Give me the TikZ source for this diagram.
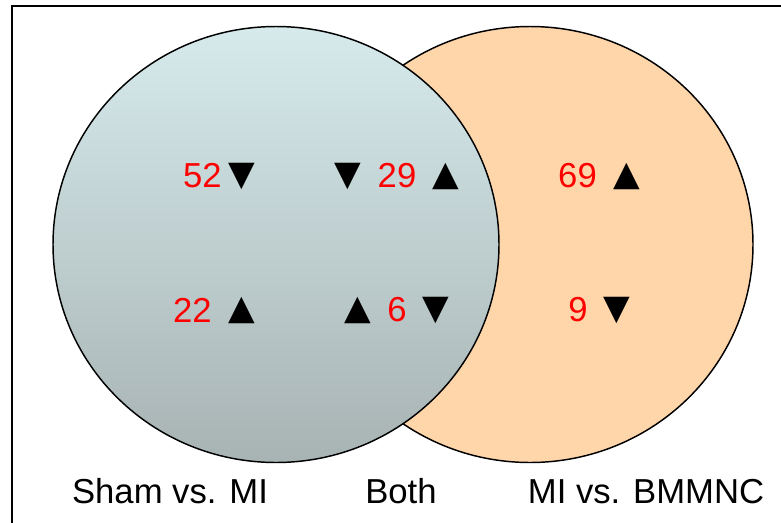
\documentclass[tikz,border=0pt]{standalone}
\usepackage{fontspec}
\setmainfont{Liberation Sans}
\newfontfamily\symfont{DejaVu Sans}
\definecolor{lefttop}{RGB}{214,234,236}
\definecolor{leftbot}{RGB}{168,179,179}
\definecolor{peach}{RGB}{255,214,170}
\begin{document}
\begin{tikzpicture}[x=0.75pt,y=-0.75pt,
  num/.style={text=red, font=\fontsize{26}{26}\selectfont, inner sep=0pt},
  tri/.style={font=\symfont\fontsize{26}{26}\selectfont, inner sep=0pt},
  lbl/.style={font=\fontsize{26}{26}\selectfont, anchor=base, inner sep=0pt},
  venn/.style={draw=black, line width=1.1pt}]
\useasboundingbox (0,0) rectangle (781,522);
\clip (0,0) rectangle (781,522);
\fill[white] (0,0) rectangle (781,522);
% frame
\draw[line width=1.6pt] (12,540) -- (12,5.7) -- (800,5.7);
% right circle
\draw[venn, fill=peach] (530,244.5) ellipse [x radius=167.25pt, y radius=163.5pt];
% left circle
\draw[venn, top color=lefttop, bottom color=leftbot] (276,244.5) ellipse [x radius=167.25pt, y radius=163.5pt];
% numbers and arrows
\node[num] (n52) at (202.5,176) {52};
\node[tri] (t52) at (241.5,176) {▼};
\node[tri] (td29) at (347.5,176) {▼};
\node[num] (n29) at (397,176) {29};
\node[tri] (tu29) at (446,176) {▲};
\node[num] (n22) at (192.5,310) {22};
\node[tri] (tu22) at (241.5,310) {▲};
\node[tri] (tu6) at (358,310) {▲};
\node[num] (n6) at (397,310) {6};
\node[tri] (td6) at (435.5,310) {▼};
\node[num] (n69) at (577.5,176) {69};
\node[tri] (tu69) at (627,176) {▲};
\node[num] (n9) at (578,310) {9};
\node[tri] (td9) at (617,310) {▼};
% labels
\node[lbl] (sham) at (170,503) {Sham vs. MI};
\node[lbl] (both) at (401,503) {Both};
\node[lbl] (bmm) at (646,503) {MI vs. BMMNC};
\end{tikzpicture}
\end{document}
